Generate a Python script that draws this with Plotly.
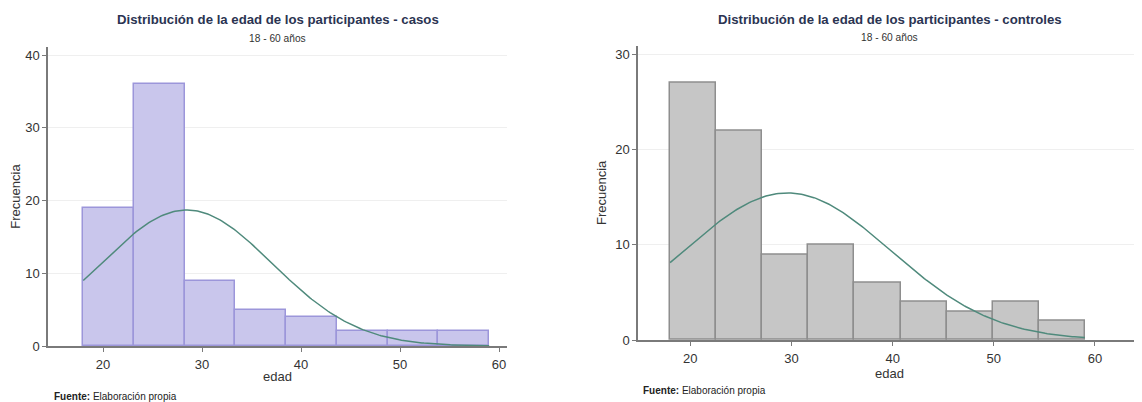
import numpy as np
import plotly.graph_objects as go

# ---- data ----
casos_bin_start, casos_bin_end = 18, 59
casos_counts = [19, 36, 9, 5, 4, 2, 2, 2]
casos_mean, casos_sd = 28.45, 8.64

ctrl_bin_start, ctrl_bin_end = 18, 59
ctrl_counts = [27, 22, 9, 10, 6, 4, 3, 4, 2]
ctrl_mean, ctrl_sd = 29.6, 10.24

x_ticks = [20, 30, 40, 50, 60]
casos_y_ticks = [0, 10, 20, 30, 40]
ctrl_y_ticks = [0, 10, 20, 30]

title_casos = "Distribución de la edad de los participantes - casos"
title_ctrl = "Distribución de la edad de los participantes - controles"
subtitle = "18 - 60 años"
source = "<b>Fuente:</b> Elaboración propia"

# page body has an 8px margin; work in screen pixels and shift
OFF = 8
W, H = 1142 - OFF, 402 - OFF
FONT = "Liberation Sans, Arial, sans-serif"


def px_x(p):
    return (p - OFF) / W


def px_y(p):
    return 1 - (p - OFF) / H


def bins(start, end, counts):
    n = len(counts)
    w = (end - start) / n
    centers = [start + w * (i + 0.5) for i in range(n)]
    return centers, w


def normal_curve(start, end, counts, mean, sd):
    n = len(counts)
    w = (end - start) / n
    xs = np.linspace(start, end, 200)
    ys = sum(counts) * w / (sd * np.sqrt(2 * np.pi)) * np.exp(-0.5 * ((xs - mean) / sd) ** 2)
    return xs, ys


fig = go.Figure()

cx, cw = bins(casos_bin_start, casos_bin_end, casos_counts)
fig.add_trace(go.Bar(x=cx, y=casos_counts, width=cw, xaxis="x", yaxis="y",
                     marker=dict(color="#c9c6ec", line=dict(color="#9c96da", width=1.5)),
                     showlegend=False))
nx, ny = normal_curve(casos_bin_start, casos_bin_end, casos_counts, casos_mean, casos_sd)
fig.add_trace(go.Scatter(x=nx, y=ny, mode="lines", xaxis="x", yaxis="y",
                         line=dict(color="#4f8a7c", width=1.5), showlegend=False))

kx, kw = bins(ctrl_bin_start, ctrl_bin_end, ctrl_counts)
fig.add_trace(go.Bar(x=kx, y=ctrl_counts, width=kw, xaxis="x2", yaxis="y2",
                     marker=dict(color="#c6c6c6", line=dict(color="#8e8e8e", width=1.5)),
                     showlegend=False))
mx, my = normal_curve(ctrl_bin_start, ctrl_bin_end, ctrl_counts, ctrl_mean, ctrl_sd)
fig.add_trace(go.Scatter(x=mx, y=my, mode="lines", xaxis="x2", yaxis="y2",
                         line=dict(color="#4f8a7c", width=1.5), showlegend=False))

axis_common = dict(showline=True, linecolor="#7a7a7a", linewidth=1.5, ticks="outside",
                   ticklen=4, tickcolor="#7a7a7a", tickfont=dict(family=FONT, size=13, color="#333333"),
                   zeroline=False, automargin=False)
title_font = dict(family=FONT, size=13, color="#333333")

L_dom = [px_x(48), px_x(507)]
R_dom = [px_x(638), min(1.0, px_x(1141))]
L_ydom = [px_y(346), px_y(47)]
R_ydom = [px_y(340), px_y(45.7)]

fig.update_layout(
    width=W, height=H, margin=dict(l=0, r=0, t=0, b=0, autoexpand=False),
    paper_bgcolor="white", plot_bgcolor="white", bargap=0,
    xaxis=dict(domain=L_dom, range=[14.44, 60.8], tickvals=x_ticks, showgrid=False,
               anchor="y", ticklabelstandoff=2, title=dict(text="edad", font=title_font, standoff=1),
               **axis_common),
    yaxis=dict(domain=L_ydom, range=[0, 41.1], tickvals=casos_y_ticks, showgrid=True,
               gridcolor="#efefef", anchor="x",
               title=dict(text="Frecuencia", font=title_font, standoff=6),
               **axis_common),
    xaxis2=dict(domain=R_dom, range=[14.83, 64.55], tickvals=x_ticks, showgrid=False,
                anchor="y2", ticklabelstandoff=2, title=dict(text="edad", font=title_font, standoff=1),
                **axis_common),
    yaxis2=dict(domain=R_ydom, range=[0, 30.9], tickvals=ctrl_y_ticks, showgrid=True,
                gridcolor="#efefef", anchor="x2",
                title=dict(text="Frecuencia", font=title_font, standoff=6),
                **axis_common),
)

ann = []
for xc, yt, ys, t in [((L_dom[0] + L_dom[1]) / 2, 20, 38, title_casos),
                      ((R_dom[0] + R_dom[1]) / 2, 19, 37, title_ctrl)]:
    ann.append(dict(x=xc, y=px_y(yt), xref="paper", yref="paper", text="<b>%s</b>" % t,
                    showarrow=False, font=dict(family=FONT, size=13.2, color="#2b3452"),
                    xanchor="center", yanchor="middle"))
    ann.append(dict(x=xc, y=px_y(ys), xref="paper", yref="paper", text=subtitle,
                    showarrow=False, font=dict(family=FONT, size=10.2, color="#333333"),
                    xanchor="center", yanchor="middle"))
ann.append(dict(x=px_x(52), y=px_y(396), xref="paper", yref="paper", text=source, showarrow=False,
                font=dict(family=FONT, size=10, color="#222222"), xanchor="left", yanchor="middle"))
ann.append(dict(x=px_x(641), y=px_y(390), xref="paper", yref="paper", text=source, showarrow=False,
                font=dict(family=FONT, size=10, color="#222222"), xanchor="left", yanchor="middle"))
fig.update_layout(annotations=ann)

fig.write_html("out.html")
